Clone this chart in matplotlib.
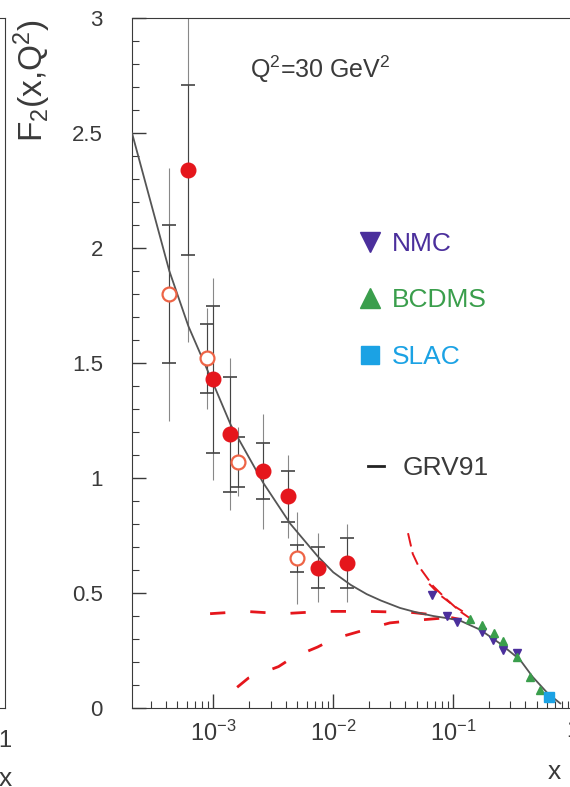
import numpy as np
import matplotlib
matplotlib.use("Agg")
from matplotlib import pyplot as plt
from matplotlib.lines import Line2D

plt.rcParams["font.family"] = ["Liberation Sans", "DejaVu Sans"]
plt.rcParams["mathtext.fontset"] = "custom"
plt.rcParams["mathtext.rm"] = "Liberation Sans"
plt.rcParams["mathtext.it"] = "Liberation Sans:italic"
plt.rcParams["mathtext.bf"] = "Liberation Sans:bold"

# --- data ---
# GRV91 curve
grv_x = [2.1e-4, 4.3e-4, 6.2e-4, 1.0e-3, 1.4e-3, 2.6e-3, 4.4e-3, 7.4e-3, 1.0e-2, 1.4e-2,
         1.9e-2, 2.5e-2, 3.6e-2, 5.0e-2, 0.068, 0.09, 0.114, 0.168, 0.246, 0.36, 0.46, 0.61, 0.78]
grv_f2 = [2.50, 1.90, 1.66, 1.41, 1.23, 0.98, 0.80, 0.66, 0.59, 0.535,
          0.495, 0.467, 0.435, 0.415, 0.40, 0.39, 0.38, 0.34, 0.28, 0.21, 0.135, 0.065, 0.02]

# filled red circles
h1_x = [6.2e-4, 1.0e-3, 1.39e-3, 2.6e-3, 4.2e-3, 7.5e-3, 1.31e-2]
h1_f2 = [2.34, 1.43, 1.19, 1.03, 0.92, 0.61, 0.63]
h1_stat = [0.37, 0.32, 0.25, 0.12, 0.11, 0.09, 0.11]
h1_tot = [0.75, 0.44, 0.33, 0.25, 0.18, 0.15, 0.17]

# open circles
zeus_x = [4.3e-4, 8.8e-4, 1.6e-3, 5.0e-3]
zeus_f2 = [1.80, 1.52, 1.07, 0.65]
zeus_stat = [0.30, 0.15, 0.11, 0.06]
zeus_tot = [0.55, 0.22, 0.15, 0.20]

# fixed target data
nmc_x = [0.067, 0.089, 0.108, 0.175, 0.215, 0.26, 0.34]
nmc_f2 = [0.49, 0.40, 0.375, 0.33, 0.295, 0.25, 0.24]
bcdms_x = [0.139, 0.175, 0.22, 0.26, 0.34, 0.44, 0.53]
bcdms_f2 = [0.385, 0.36, 0.325, 0.29, 0.22, 0.135, 0.08]
slac_x = [0.63]
slac_f2 = [0.048]

# red dashed curves
flat_x = [9.4e-4, 1.85e-3, 3.8e-3, 8.3e-3, 2.0e-2, 4.6e-2, 0.083, 0.114]
flat_f2 = [0.41, 0.42, 0.41, 0.42, 0.42, 0.415, 0.40, 0.385]
rise_x = [1.58e-3, 1.96e-3, 3.5e-3, 4.6e-3, 7.4e-3, 1.0e-2, 2.15e-2, 2.97e-2, 4.6e-2, 0.078, 0.114]
rise_f2 = [0.09, 0.13, 0.18, 0.22, 0.265, 0.30, 0.35, 0.37, 0.38, 0.39, 0.385]
steep_a_x = [0.042, 0.046, 0.051, 0.068, 0.089, 0.114, 0.138]
steep_a_f2 = [0.76, 0.67, 0.62, 0.53, 0.47, 0.42, 0.39]
steep_b_x = [0.063, 0.078, 0.104, 0.12]
steep_b_f2 = [0.54, 0.49, 0.44, 0.42]

RED = "#e5161c"
OPEN = "#ee6446"
NMC_C = "#4b2f9c"
BCDMS_C = "#3a9e4c"
SLAC_C = "#1ba2e4"
AX_C = "#3a3a3a"

fig = plt.figure(figsize=(5.7, 7.87), dpi=100)

# neighbouring panel, only its right edge is in the crop
ax2 = fig.add_axes([5 / 570 - 0.774, 0.1004, 0.774, 0.8767])
ax2.set_xscale("log")
ax2.set_xlim(2.1e-4, 1)
ax2.set_ylim(0, 3)
ax2.spines["left"].set_visible(False)
for s in ["right", "top", "bottom"]:
    ax2.spines[s].set_color(AX_C)
ax2.set_xticks([1])
ax2.set_xticklabels(["1"])
ax2.xaxis.set_minor_locator(plt.NullLocator())
ax2.set_yticks([])
ax2.tick_params(axis="x", length=0, pad=16, labelsize=17, colors=AX_C)
ax2.set_xlabel("x", fontsize=19, color=AX_C)
ax2.xaxis.set_label_coords(1.0, -0.085)

ax = fig.add_axes([132 / 570, 0.1004, 0.774, 0.8767])
ax.set_xscale("log")
ax.set_xlim(2.1e-4, 1)
ax.set_ylim(0, 3)

# red dashed model curves
dash_kw = dict(color=RED, lw=2.0, dashes=(5.5, 9))
ax.plot(flat_x, flat_f2, **dash_kw)
ax.plot(rise_x, rise_f2, **dash_kw)
ax.plot(steep_a_x, steep_a_f2, color=RED, lw=1.4, dashes=(7, 3))
ax.plot(steep_b_x, steep_b_f2, color=RED, lw=1.4, dashes=(6, 3))

# GRV91
ax.plot(grv_x, grv_f2, color="#555555", lw=1.3, zorder=3)

# error bars: thin total error, caps at the inner error
for xs, ys, st, tot in [(h1_x, h1_f2, h1_stat, h1_tot), (zeus_x, zeus_f2, zeus_stat, zeus_tot)]:
    ax.errorbar(xs, ys, yerr=tot, fmt="none", ecolor="#888888", elinewidth=0.8, zorder=2)
    ax.errorbar(xs, ys, yerr=st, fmt="none", ecolor="#444444", elinewidth=0.8,
                capsize=5, capthick=1.2, zorder=2)

ax.plot(h1_x, h1_f2, "o", color=RED, ms=10.5, mec=RED, zorder=4)
ax.plot(zeus_x, zeus_f2, "o", mfc="white", mec=OPEN, mew=1.6, ms=10, zorder=4)

ax.plot(nmc_x, nmc_f2, "v", color=NMC_C, ms=6, zorder=5)
ax.plot(bcdms_x, bcdms_f2, "^", color=BCDMS_C, ms=6, zorder=5)
ax.plot(slac_x, slac_f2, "s", color=SLAC_C, ms=7, zorder=5)

# axes styling
for s in ["left", "bottom", "top"]:
    ax.spines[s].set_color(AX_C)
ax.spines["right"].set_visible(False)
ax.set_yticks(np.arange(0, 3.01, 0.5))
ax.set_yticklabels(["0", "0.5", "1", "1.5", "2", "2.5", "3"])
ax.set_yticks(np.arange(0, 3.01, 0.1), minor=True)
ax.set_xticks([1e-3, 1e-2, 1e-1, 1])
ax.set_xticklabels(["$10^{-3}$", "$10^{-2}$", "$10^{-1}$", "1"])
ax.tick_params(axis="both", which="major", direction="in", length=10, width=1,
               colors=AX_C, labelsize=16)
ax.tick_params(axis="both", which="minor", direction="in", length=5, width=0.8,
               colors=AX_C)
ax.tick_params(axis="y", which="major", pad=21)
ax.tick_params(axis="x", which="major", pad=9, labelsize=17)

ax.set_xlabel("x", fontsize=19, color=AX_C)
ax.xaxis.set_label_coords(0.957, -0.075)
ax.set_ylabel("F$_2$(x,Q$^2$)", fontsize=24, color=AX_C)
ax.yaxis.set_label_coords(-0.18, 0.91)

ax.text(0.268, 0.925, "Q$^2$=30 GeV$^2$", transform=ax.transAxes,
        fontsize=18, color=AX_C, ha="left", va="center")

handles = [
    Line2D([], [], ls="none", marker="v", color=NMC_C, ms=14),
    Line2D([], [], ls="none", marker="^", color=BCDMS_C, ms=14),
    Line2D([], [], ls="none", marker="s", color=SLAC_C, ms=13),
]
leg = ax.legend(handles, ["NMC", "BCDMS", "SLAC"], loc="upper left",
                bbox_to_anchor=(0.515, 0.69), frameon=False, fontsize=19,
                handlelength=0.8, handletextpad=0.45, labelspacing=1.23,
                borderpad=0, borderaxespad=0)
for txt, c in zip(leg.get_texts(), [NMC_C, BCDMS_C, SLAC_C]):
    txt.set_color(c)
ax.add_artist(leg)

leg2 = ax.legend([Line2D([], [], color="#222222", lw=2)], ["GRV91"], loc="center left",
                 bbox_to_anchor=(0.535, 0.348), frameon=False, fontsize=19,
                 handlelength=0.6, handletextpad=0.7, borderpad=0, borderaxespad=0)
for txt in leg2.get_texts():
    txt.set_color(AX_C)

fig.savefig("out.png", dpi=100)
